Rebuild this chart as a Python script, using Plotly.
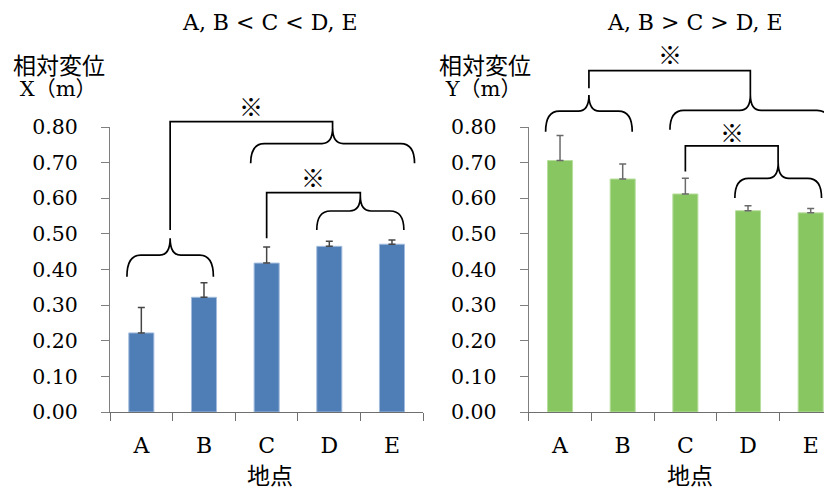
import plotly.graph_objects as go

# ---------------- data ----------------
sites = ["A", "B", "C", "D", "E"]
disp_x = [0.222, 0.322, 0.418, 0.465, 0.471]
err_x = [0.071, 0.041, 0.045, 0.014, 0.012]
disp_y = [0.706, 0.654, 0.612, 0.565, 0.559]
err_y = [0.070, 0.042, 0.044, 0.014, 0.012]
y_ticks = [0.0, 0.1, 0.2, 0.3, 0.4, 0.5, 0.6, 0.7, 0.8]
title_left = "A, B &lt; C &lt; D, E"
title_right = "A, B &gt; C &gt; D, E"
ylab_left = '<span style="font-size:23px">相対変位</span><br><span style="font-size:21px"> X（m）</span>'
ylab_right = '<span style="font-size:23px">相対変位</span><br><span style="font-size:21px"> Y（m）</span>'
xlab = "地点"
mark = "※"

# ---------------- layout constants ----------------
OFF = 8                    # page body margin of the browser
W, H = 832 - OFF, 488 - OFF
YMAX = 0.8
FONT = "DejaVu Serif, Noto Sans CJK JP, serif"
BLUE = "#4F7DB6"
GREEN = "#88C661"
AXC = "#7F7F7F"


def px(x):  # window pixel -> paper fraction
    return (x - OFF) / W


def py(y):
    return 1 - (y - OFF) / H


def d(v):  # value -> y-domain fraction
    return v / YMAX


fig = go.Figure()

fig.add_trace(go.Bar(
    x=sites, y=disp_x, width=0.4, xaxis="x", yaxis="y",
    marker=dict(color=BLUE, line=dict(color="#A3BCDD", width=1)),
    error_y=dict(type="data", array=err_x, arrayminus=[0] * len(err_x),
                 symmetric=False, color="#454545", thickness=1.5, width=3.5),
    showlegend=False,
))
fig.add_trace(go.Bar(
    x=sites, y=disp_y, width=0.4, xaxis="x2", yaxis="y2",
    marker=dict(color=GREEN, line=dict(color="#B8DE9E", width=1)),
    error_y=dict(type="data", array=err_y, arrayminus=[0] * len(err_y),
                 symmetric=False, color="#6A6A6A", thickness=1.5, width=3.5),
    showlegend=False,
))

ydom = [py(412), py(127)]
common_y = dict(
    range=[0, YMAX], tickvals=y_ticks, tickformat=".2f", showgrid=False,
    zeroline=False, showline=True, linecolor=AXC, linewidth=1,
    ticks="outside", ticklen=8, tickcolor=AXC, tickwidth=1,
    tickfont=dict(family=FONT, size=20.5, color="#000"),
    ticklabelstandoff=19, fixedrange=True, automargin=False,
)
common_x = dict(
    type="category", showgrid=False, zeroline=False, showline=True,
    linecolor="#6F6F6F", linewidth=1.3, ticks="outside", ticklen=8,
    tickcolor="#6F6F6F", tickwidth=1, tickson="boundaries",
    tickfont=dict(family=FONT, size=22, color="#000"),
    ticklabelstandoff=13, fixedrange=True, automargin=False,
)

fig.update_layout(
    width=W, height=H, autosize=False,
    margin=dict(l=0, r=0, t=0, b=0, pad=0, autoexpand=False),
    paper_bgcolor="white", plot_bgcolor="white",
    xaxis=dict(domain=[px(110), px(423.3)], anchor="y", range=[-0.5, 4.5], **common_x),
    yaxis=dict(domain=ydom, anchor="x", **common_y),
    xaxis2=dict(domain=[px(528.7), 1.0], anchor="y2", range=[-0.5, 4.34], **common_x),
    yaxis2=dict(domain=ydom, anchor="x2", **common_y),
)


def brace_path(xa, xb, yt, ye, rx=0.22, rm=0.17, frac=0.44):
    xc = (xa + xb) / 2
    ym = yt + (ye - yt) * frac
    return (f"M{xa},{d(ye)} Q{xa},{d(ym)} {xa + rx},{d(ym)} "
            f"L{xc - rm},{d(ym)} Q{xc},{d(ym)} {xc},{d(yt)} "
            f"Q{xc},{d(ym)} {xc + rm},{d(ym)} L{xb - rx},{d(ym)} "
            f"Q{xb},{d(ym)} {xb},{d(ye)}")


def bracket_path(x1, y1, x2, y2, ytop):
    return f"M{x1},{d(y1)} L{x1},{d(ytop)} L{x2},{d(ytop)} L{x2},{d(y2)}"


shapes = []
line_style = dict(color="black", width=1.7)

for xr, yr, items in [
    ("x", "y domain", [
        ("brace", -0.23, 1.15, 0.488, 0.380),
        ("brace", 1.745, 4.36, 0.797, 0.698),
        ("brace", 2.80, 4.19, 0.606, 0.511),
        ("bracket", 0.46, 0.511, 3.052, 0.797, 0.815),
        ("bracket", 2.0, 0.488, 3.495, 0.606, 0.616),
    ]),
    ("x2", "y2 domain", [
        ("brace", -0.23, 1.152, 0.890, 0.787),
        ("brace", 1.754, 4.321, 0.890, 0.792),
        ("brace", 2.79, 4.173, 0.699, 0.601),
        ("bracket", 0.461, 0.909, 3.037, 0.890, 0.958),
        ("bracket", 2.0, 0.675, 3.48, 0.699, 0.747),
    ]),
]:
    for it in items:
        if it[0] == "brace":
            p = brace_path(*it[1:])
        else:
            p = bracket_path(*it[1:])
        shapes.append(dict(type="path", path=p, xref=xr, yref=yr,
                           line=line_style, fillcolor="rgba(0,0,0,0)"))

fig.update_layout(shapes=shapes)

ann = []
tf = dict(family=FONT, size=22, color="#000")
ann.append(dict(text=title_left, x=px(270), y=py(22), xref="paper", yref="paper",
                xanchor="center", yanchor="middle", showarrow=False, font=tf))
ann.append(dict(text=title_right, x=px(695), y=py(22), xref="paper", yref="paper",
                xanchor="center", yanchor="middle", showarrow=False, font=tf))
for xs, txt in [(11, ylab_left), (437, ylab_right)]:
    ann.append(dict(text=txt, x=px(xs), y=py(77), xref="paper", yref="paper",
                    xanchor="left", yanchor="middle", align="left", showarrow=False,
                    font=dict(family=FONT, size=17, color="#000")))
lf = dict(family=FONT, size=23, color="#000")
for xc in [270, 690]:
    ann.append(dict(text=xlab, x=px(xc), y=py(476), xref="paper", yref="paper",
                    xanchor="center", yanchor="middle", showarrow=False, font=lf))
mf = dict(family="Noto Sans CJK JP", size=24, color="#000")
for xr, yr, xm, vm in [("x", "y domain", 1.756, 0.859), ("x", "y domain", 2.747, 0.660),
                       ("x2", "y2 domain", 1.75, 1.005), ("x2", "y2 domain", 2.74, 0.787)]:
    ann.append(dict(text=mark, x=xm, y=d(vm), xref=xr, yref=yr,
                    xanchor="center", yanchor="middle", showarrow=False, font=mf))
fig.update_layout(annotations=ann)

fig.write_html("out.html")
